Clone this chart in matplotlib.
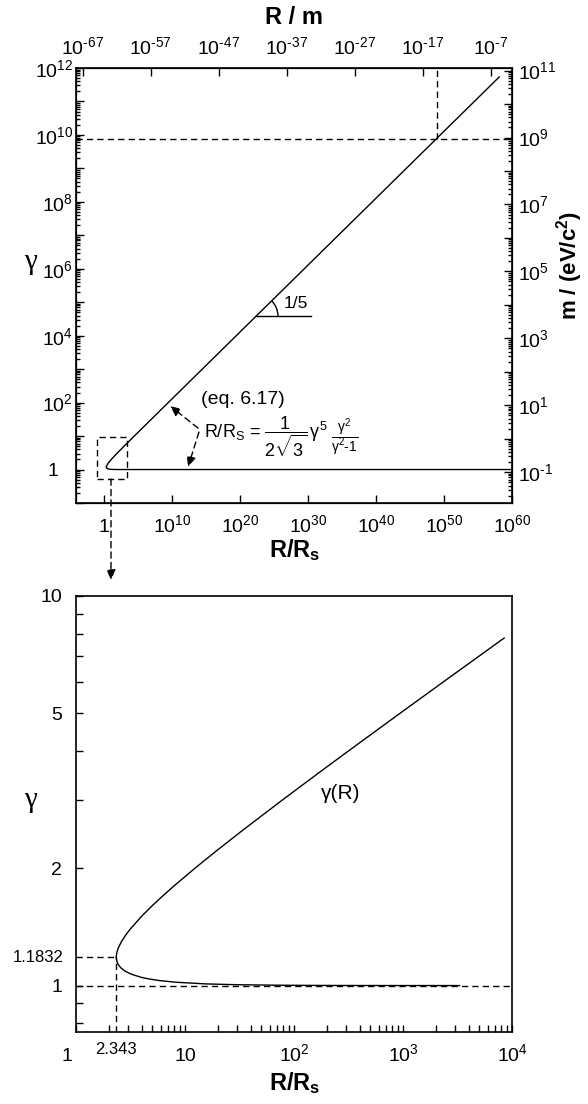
import matplotlib
matplotlib.use("Agg")
import matplotlib.pyplot as plt
from matplotlib.ticker import LogLocator, NullLocator, NullFormatter
from matplotlib.patches import Arc, Rectangle
from matplotlib.transforms import ScaledTranslation, blended_transform_factory

plt.rcParams['font.family'] = ['Liberation Sans', 'DejaVu Sans']
plt.rcParams['mathtext.fontset'] = 'custom'
plt.rcParams['mathtext.rm'] = 'Liberation Sans'
plt.rcParams['mathtext.it'] = 'Liberation Sans:italic'
plt.rcParams['mathtext.bf'] = 'Liberation Sans:bold'
plt.rcParams['mathtext.default'] = 'regular'
plt.rcParams['axes.unicode_minus'] = False

# ---- data ----
# upper branch gamma(R), R in units of R_s
upper_R = [2.3432, 2.3444, 2.3509, 2.3777, 2.4472, 2.6252, 2.8682, 3.1698, 3.9458,
           4.9673, 6.2675, 7.8898, 12.317, 18.752, 33.561, 78.917, 165.09, 315.31,
           939.70, 2308.9, 4952.8, 8474.0]
upper_gamma = [1.1832, 1.19, 1.2, 1.22, 1.25, 1.3, 1.35, 1.4, 1.5,
               1.6, 1.7, 1.8, 2.0, 2.2, 2.5, 3.0, 3.5, 4.0,
               5.0, 6.0, 7.0, 7.8]
# lower branch (gamma -> 1)
lower_R = [2.3432, 2.3485, 2.3810, 2.4527, 2.5824, 2.8054, 3.1991, 3.9629, 4.6553,
           5.830, 8.208, 15.40, 29.82, 73.11, 145.3, 289.6, 722.6, 3300.0]
lower_gamma = [1.1832, 1.17, 1.15, 1.13, 1.11, 1.09, 1.07, 1.05, 1.04,
               1.03, 1.02, 1.01, 1.005, 1.002, 1.001, 1.0005, 1.0002, 1.00004]
# far part of the upper branch (top panel only)
far_R = [2.916e4, 2.887e9, 2.887e14, 2.887e29, 2.887e44, 1.33e58]
far_gamma = [10.0, 100.0, 1e3, 1e6, 1e9, 5.4e11]
lower_end_R = [1e60]
lower_end_gamma = [1.0]

R_min = 2.343
gamma_min = 1.1832
proton_gamma = 7.8e9
proton_R = 8.3e48
Rs_in_m = 10 ** -63.9        # R/m = R/Rs * Rs
m_per_gamma = 0.12           # eV/c^2 per unit gamma
slope_R, slope_gamma, slope_R_end = 2.3e22, 3.8e4, 3.2e30

HY = '\u2010'   # short hyphen for negative exponents


def pow10(k):
    if k < 0:
        return f'$10^{{{HY}{-k}}}$'
    return f'$10^{{{k}}}$'


x_top_ticks = [10.0 ** k for k in range(0, 61, 10)]
x_top_labels = ['1'] + [pow10(k) for k in range(10, 61, 10)]
y_top_exp = list(range(-1, 13))
x_m_exp = list(range(-67, -6, 10))
y_m_exp = list(range(-1, 12))
x_low_ticks = [1, 10, 100, 1000, 10000]
x_low_labels = ['1', '10', '$10^2$', '$10^3$', '$10^4$']
y_low_ticks = [1, 2, 5, 10]
y_low_labels = ['1', '2', '5', '10']
y_low_minor = [0.8, 0.9, 3, 4, 6, 7, 8, 9]

W, H = 588, 1104
DASH = (0, (4.5, 3))
LW = 1.0
TS = 14

fig = plt.figure(figsize=(W / 100, H / 100), dpi=100)


def shift(label, dx_px, dy_px=0):
    label.set_transform(label.get_transform() +
                        ScaledTranslation(dx_px / 100, dy_px / 100, fig.dpi_scale_trans))


# ================= top panel =================
ax1 = fig.add_axes([76 / W, 1 - 503 / H, 436 / W, 435 / H])
ax1.plot(upper_R + far_R, upper_gamma + far_gamma, color='k', lw=LW)
ax1.plot(lower_R + lower_end_R, lower_gamma + lower_end_gamma, color='k', lw=LW)
ax1.set_xscale('log')
ax1.set_yscale('log')
ax1.set_xlim(10 ** -4.1, 1e60)
ax1.set_ylim(0.1, 1e12)

ax1.set_xticks(x_top_ticks, x_top_labels)
ax1.xaxis.set_minor_locator(NullLocator())
ylabs = []
for k in y_top_exp:
    if k == 0:
        ylabs.append('1')
    elif k > 0 and k % 2 == 0:
        ylabs.append(pow10(k))
    else:
        ylabs.append('')
ax1.set_yticks([10.0 ** k for k in y_top_exp], ylabs)
ax1.yaxis.set_minor_locator(LogLocator(base=10, subs=range(2, 10), numticks=300))
ax1.yaxis.set_minor_formatter(NullFormatter())
ax1.tick_params(which='both', direction='in', top=False, right=False, width=1, labelsize=TS)
ax1.tick_params(which='major', length=6)
ax1.tick_params(which='minor', length=3)
ax1.tick_params(axis='x', pad=21)
ax1.tick_params(axis='y', pad=2)
for s in ax1.spines.values():
    s.set_linewidth(1.2)

# top axis: R in metres
axt = ax1.twiny()
axt.set_xscale('log')
axt.set_xlim(10 ** -4.1 * Rs_in_m, 1e60 * Rs_in_m)
axt.set_xticks([10.0 ** k for k in x_m_exp], [pow10(k) for k in x_m_exp])
axt.xaxis.set_minor_locator(NullLocator())
axt.tick_params(direction='in', length=6, width=1, labelsize=TS, pad=7)

# right axis: mass
axr = ax1.twinx()
axr.set_yscale('log')
axr.set_ylim(0.1 * m_per_gamma, 1e12 * m_per_gamma)
axr.set_yticks([10.0 ** k for k in y_m_exp],
               [pow10(k) if k % 2 != 0 else '' for k in y_m_exp])
axr.yaxis.set_minor_locator(LogLocator(base=10, subs=range(2, 10), numticks=300))
axr.yaxis.set_minor_formatter(NullFormatter())
axr.tick_params(which='both', direction='in', width=1, labelsize=TS, pad=4)
axr.tick_params(which='major', length=6)
axr.tick_params(which='minor', length=3)

# dashed reference lines (proton)
ax1.axhline(proton_gamma, color='k', lw=LW, ls=DASH)
ax1.plot([proton_R, proton_R], [proton_gamma, 1e12], color='k', lw=LW, ls=DASH)

# slope 1/5 marker
ax1.plot([slope_R, slope_R_end], [slope_gamma, slope_gamma], color='k', lw=LW)
arc_tr = fig.dpi_scale_trans + ScaledTranslation(slope_R, slope_gamma, ax1.transData)
ax1.add_patch(Arc((0, 0), 0.44, 0.44, theta1=0, theta2=44.6, transform=arc_tr,
                  color='k', lw=LW))
ax1.text(0.505, 0.458, '1/5', transform=ax1.transAxes, fontsize=12.5,
         ha='center', va='center')

# equation annotation
ax1.text(0.383, 0.237, '(eq. 6.17)', transform=ax1.transAxes, fontsize=14,
         ha='center', va='center')
eq = ax1.text(0.294, 0.152, r'R/R$_S$ = $\dfrac{1}{2\sqrt{3}}\,\gamma^5$',
              transform=ax1.transAxes, fontsize=13, ha='left', va='center')
ax1.annotate(f'$\\dfrac{{\\gamma^2}}{{\\gamma^2{HY}1}}$', xy=(1, 0.5), xycoords=eq,
             xytext=(2, 0), textcoords='offset points', fontsize=10,
             ha='left', va='center')
aprops = dict(arrowstyle='-|>,head_length=0.5,head_width=0.22', color='k', lw=LW,
              ls=DASH, mutation_scale=12, shrinkA=0, shrinkB=0)
ax1.annotate('', xy=(0.216, 0.223), xytext=(0.280, 0.172),
             xycoords='axes fraction', textcoords='axes fraction', arrowprops=aprops)
ax1.annotate('', xy=(0.257, 0.083), xytext=(0.282, 0.163),
             xycoords='axes fraction', textcoords='axes fraction', arrowprops=aprops)

# zoom box and link to lower panel
ax1.add_patch(Rectangle((0.048, 0.055), 0.069, 0.097, transform=ax1.transAxes,
                        fill=False, ec='k', lw=LW, ls=DASH, clip_on=False))
ax1.annotate('', xy=(111, H - 580), xytext=(111, H - 479),
             xycoords='figure pixels', textcoords='figure pixels',
             arrowprops=aprops, annotation_clip=False)

for lbl in ax1.get_xticklabels():
    lbl.set_verticalalignment('baseline')
shift(ax1.get_yticklabels()[1], -15)

fig.text(294 / W, 1 - 18 / H, 'R / m', fontsize=17, fontweight='bold',
         ha='center', va='center')
fig.text(570 / W, 1 - 265 / H, 'm / (eV/c$^2$)', fontsize=16, fontweight='bold',
         rotation=90, ha='center', va='center')
fig.text(295 / W, 1 - 550 / H, 'R/R$_s$', fontsize=17, fontweight='bold',
         ha='center', va='center')
fig.text(30 / W, 1 - 262 / H, 'γ', fontsize=21, family='Liberation Serif',
         ha='center', va='center')

# ================= lower panel =================
ax2 = fig.add_axes([76 / W, 1 - 1032 / H, 436 / W, 436 / H])
ax2.plot(upper_R, upper_gamma, color='k', lw=LW)
ax2.plot(lower_R, lower_gamma, color='k', lw=LW)
ax2.set_xscale('log')
ax2.set_yscale('log')
ax2.set_xlim(1, 1e4)
ax2.set_ylim(0.76, 10)
ax2.set_xticks(x_low_ticks, x_low_labels)
ax2.xaxis.set_minor_locator(LogLocator(base=10, subs=range(2, 10), numticks=50))
ax2.xaxis.set_minor_formatter(NullFormatter())
ax2.set_yticks(y_low_ticks, y_low_labels)
ax2.set_yticks(y_low_minor, minor=True)
ax2.yaxis.set_minor_formatter(NullFormatter())
ax2.tick_params(which='both', direction='in', top=False, right=False, length=5,
                width=1, labelsize=TS)
ax2.tick_params(axis='x', pad=21)
ax2.tick_params(axis='y', pad=10)
for s in ax2.spines.values():
    s.set_linewidth(1.2)

ax2.axhline(1.0, color='k', lw=LW, ls=DASH)
ax2.plot([1, R_min], [gamma_min, gamma_min], color='k', lw=LW, ls=DASH)
ax2.plot([R_min, R_min], [0.76, gamma_min], color='k', lw=LW, ls=DASH)

bx = blended_transform_factory(ax2.transData, ax2.transAxes)
ax2.text(R_min, -0.023, '2.343', transform=bx, fontsize=12, ha='center', va='top')
by = blended_transform_factory(ax2.transAxes, ax2.transData)
ax2.text(-0.028, gamma_min, '1.1832', transform=by, fontsize=12, ha='right', va='center')
ax2.text(0.606, 0.548, 'γ(R)', transform=ax2.transAxes, fontsize=15,
         ha='center', va='center')

for lbl in ax2.get_xticklabels():
    lbl.set_verticalalignment('baseline')
shift(ax2.get_xticklabels()[0], -9)

fig.text(295 / W, 1 - 1083 / H, 'R/R$_s$', fontsize=17, fontweight='bold',
         ha='center', va='center')
fig.text(30 / W, 1 - 800 / H, 'γ', fontsize=21, family='Liberation Serif',
         ha='center', va='center')

fig.savefig('out.png', dpi=100)
